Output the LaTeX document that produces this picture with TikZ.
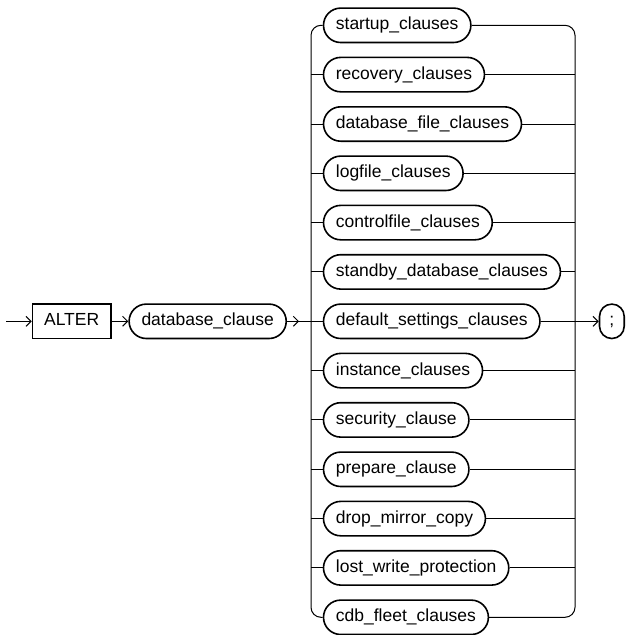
\documentclass[tikz,border=0pt]{standalone}
\usepackage{fontspec}
\setmainfont{Liberation Sans}
\usetikzlibrary{arrows.meta}
\begin{document}
\begin{tikzpicture}[x=1pt, y=-1pt, font=\fontsize{17.5}{21}\selectfont]
    \tikzstyle{clause} = [rectangle, draw, line width=1.6pt, rounded corners=17.2pt, inner xsep=12.4pt, minimum height=34.4pt, text height=12.6pt, text depth=3.7pt, anchor=west]
    \tikzstyle{keyword} = [rectangle, draw, line width=1.6pt, inner xsep=11.6pt, minimum height=34.4pt, text height=12.6pt, text depth=3.7pt, anchor=west]
    \tikzstyle{flow} = [line width=1pt, ->, >={Straight Barb[length=5pt,width=10pt]}]
    \tikzstyle{rail} = [line width=1pt]

    \useasboundingbox (0,0) rectangle (626,635);

    % Main line
    \coordinate (start) at (6,321.3);
    \node [keyword] (alter) at (31.7,321.3) {ALTER};
    \node [clause] (dbclause) at (128.3,321.3) {database\_clause};
    \node [clause, rounded corners=12.3pt, minimum width=24.7pt, inner xsep=0pt] (semi) at (598.7,321.3) {;};

    % Choices
    \node [clause] (startup) at (322.7,25.3) {startup\_clauses};
    \node [clause] (recovery) at (322.7,74.6) {recovery\_clauses};
    \node [clause] (dbfile) at (322.7,124.0) {database\_file\_clauses};
    \node [clause] (logfile) at (322.7,173.3) {logfile\_clauses};
    \node [clause] (controlfile) at (322.7,222.6) {controlfile\_clauses};
    \node [clause] (standby) at (322.7,271.9) {standby\_database\_clauses};
    \node [clause] (default) at (322.7,321.3) {default\_settings\_clauses};
    \node [clause] (instance) at (322.7,370.6) {instance\_clauses};
    \node [clause] (security) at (322.7,419.9) {security\_clause};
    \node [clause] (prepare) at (322.7,469.3) {prepare\_clause};
    \node [clause] (dropmirror) at (322.7,518.6) {drop\_mirror\_copy};
    \node [clause] (lostwrite) at (322.7,567.9) {lost\_write\_protection};
    \node [clause] (cdbfleet) at (322.7,617.3) {cdb\_fleet\_clauses};

    % Branch points
    \coordinate (split) at (311,321.3);
    \coordinate (join) at (575,321.3);

    % Connectors
    \draw [flow] (start) -- (alter);
    \draw [flow] (alter) -- (dbclause);
    \draw [rail] (dbclause) -- (default);
    \draw [flow] (dbclause.east) -- ([xshift=12pt]dbclause.east);
    \draw [rail, rounded corners=10pt] (startup.west) -| (split) |- (cdbfleet.west);
    \draw [rail, rounded corners=10pt] (startup.east) -| (join) |- (cdbfleet.east);
    \foreach \n in {recovery, dbfile, logfile, controlfile, standby, instance, security, prepare, dropmirror, lostwrite} {
        \draw [rail] (\n.west -| split) -- (\n.west);
        \draw [rail] (\n.east) -- (\n.east -| join);
    }
    \draw [rail] (default.east) -- (join);
    \draw [flow] (join) -- (semi);

\end{tikzpicture}
\end{document}
